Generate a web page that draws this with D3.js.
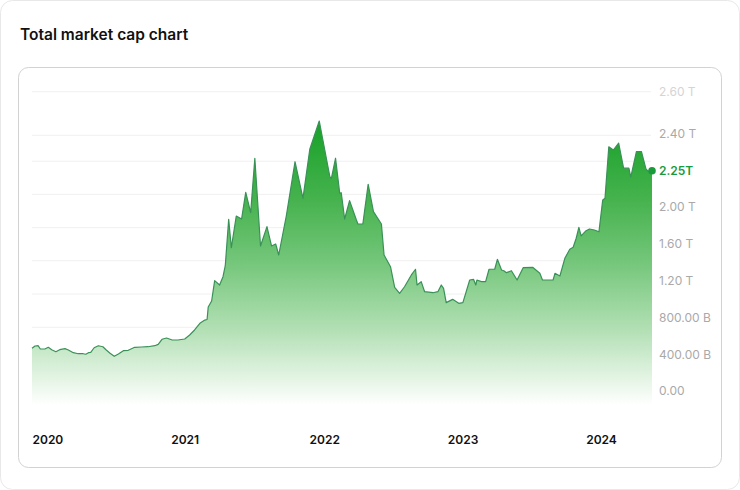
<!DOCTYPE html>
<html><head><meta charset="utf-8">
<script src="https://cdn.jsdelivr.net/npm/d3@7"></script>
<style>
html,body{margin:0;padding:0;background:#fff;}
svg{display:block;font-family:Inter,"Noto Sans",sans-serif;}
</style></head>
<body><svg id="c" width="740" height="490"></svg>
<script>
const title = "Total market cap chart";
const dates = ["2020-01-01","2020-01-09","2020-01-17","2020-01-23","2020-02-04","2020-02-13","2020-02-22","2020-03-04","2020-03-14","2020-03-28",
"2020-04-06","2020-04-19","2020-05-02","2020-05-15","2020-05-22","2020-05-29","2020-06-04","2020-06-13","2020-06-24","2020-07-06",
"2020-07-15","2020-07-25","2020-08-05","2020-08-16","2020-08-29","2020-09-11","2020-09-28","2020-10-16","2020-11-02","2020-11-20",
"2020-11-29","2020-12-09","2020-12-21","2021-01-05","2021-01-20","2021-02-07","2021-02-20","2021-03-05","2021-03-19","2021-04-01",
"2021-04-07","2021-04-10","2021-04-19","2021-04-27","2021-05-10","2021-05-19","2021-05-25","2021-06-03","2021-06-10","2021-06-23",
"2021-07-07","2021-07-18","2021-07-31","2021-08-11","2021-08-26","2021-09-12","2021-09-24","2021-10-05","2021-10-13","2021-11-02",
"2021-11-25","2021-12-16","2022-01-03","2022-01-28","2022-02-25","2022-03-01","2022-03-12","2022-03-23","2022-03-27","2022-04-05",
"2022-04-18","2022-05-06","2022-05-10","2022-05-23","2022-06-06","2022-06-20","2022-07-11","2022-07-18","2022-08-04","2022-08-15",
"2022-08-28","2022-09-10","2022-09-28","2022-10-09","2022-10-13","2022-10-24","2022-11-02","2022-11-24","2022-12-07","2022-12-16",
"2022-12-22","2022-12-29","2023-01-15","2023-01-31","2023-02-11","2023-03-01","2023-03-11","2023-03-17","2023-03-20","2023-04-01",
"2023-04-12","2023-04-21","2023-05-06","2023-05-13","2023-05-24","2023-05-30","2023-06-06","2023-06-19","2023-07-04","2023-07-20",
"2023-08-14","2023-09-02","2023-09-09","2023-10-07","2023-10-12","2023-10-25","2023-11-07","2023-11-20","2023-11-29","2023-12-07",
"2023-12-14","2023-12-20","2024-01-02","2024-01-11","2024-01-24","2024-02-05","2024-02-15","2024-02-21","2024-03-02","2024-03-14",
"2024-03-28","2024-04-10","2024-04-24","2024-04-29","2024-05-14","2024-05-27","2024-06-08","2024-06-14","2024-06-24"];
// total market cap, trillions USD
const values = [0.461,0.486,0.489,0.453,0.453,0.472,0.446,0.424,0.446,0.457,
0.442,0.413,0.402,0.402,0.396,0.413,0.417,0.467,0.489,0.478,
0.442,0.407,0.374,0.399,0.435,0.439,0.472,0.475,0.478,0.489,
0.504,0.559,0.573,0.551,0.551,0.562,0.605,0.660,0.733,0.768,
0.774,0.910,0.975,1.196,1.149,1.239,1.359,1.863,1.554,1.899,
1.866,2.100,1.935,2.300,1.573,1.783,1.573,1.595,1.475,1.899,
2.286,2.058,2.336,2.459,2.208,2.197,2.300,2.093,2.097,1.866,
2.042,1.855,1.812,1.812,2.156,1.946,1.812,1.475,1.348,1.124,
1.059,1.130,1.258,1.320,1.149,1.185,1.076,1.065,1.076,1.149,
1.113,0.957,0.993,0.950,0.957,1.203,1.211,1.149,1.203,1.185,
1.185,1.320,1.320,1.428,1.312,1.304,1.283,1.304,1.203,1.337,
1.341,1.276,1.203,1.203,1.276,1.247,1.439,1.537,1.559,1.657,
1.776,1.682,1.739,1.758,1.747,1.728,2.047,2.058,2.346,2.333,
2.361,2.260,2.260,2.206,2.327,2.327,2.257,2.245,2.250];
const yTickValues = [0, 0.4, 0.8, 1.2, 1.6, 2.0, 2.4, 2.6];
const gridValues = [2.6, 2.392, 2.288, 2.086, 1.772, 1.413, 1.051, 0.689, 0.327, -0.036];
const yearTicks = ["2020-01-01","2021-01-01","2022-01-01","2023-01-01","2024-01-01"];
const currentLabel = "2.25T";

const parse = d3.timeParse("%Y-%m-%d");
const data = dates.map((d,i)=>({date:parse(d), value:values[i]}));

const svg = d3.select("#c");
// outer card
svg.append("rect").attr("x",0.5).attr("y",0.5).attr("width",739).attr("height",489)
  .attr("rx",12).attr("fill","#fff").attr("stroke","#e8e8e8");
svg.append("text").attr("x",20).attr("y",39.5).text(title)
  .attr("font-size",15.5).attr("font-weight",600).attr("fill","#111");
// inner card
svg.append("rect").attr("x",18.5).attr("y",67.5).attr("width",703).attr("height",400)
  .attr("rx",10).attr("fill","#fff").attr("stroke","#d2d2d2");

const x = d3.scaleTime().domain([parse("2020-01-01"), parse("2024-06-24")]).range([32, 652]);
const y = d3.scaleLinear().domain([0, 2.0, 2.25, 2.4, 2.6]).range([390.7, 206.7, 170.7, 133.3, 91.7]);
const plotBottom = 405;

// gradient
const defs = svg.append("defs");
const g = defs.append("linearGradient").attr("id","fillG").attr("gradientUnits","userSpaceOnUse")
  .attr("x1",0).attr("x2",0).attr("y1",118).attr("y2",plotBottom);
[[0,"#15a026"],[0.28,"#45b24d"],[0.5,"#74c67a"],[0.74,"#b3e0b5"],[1,"#ffffff"]].forEach(s=>
  g.append("stop").attr("offset",s[0]).attr("stop-color",s[1]));

// gridlines
svg.append("g").selectAll("line").data(gridValues).join("line")
  .attr("x1",32).attr("x2",651).attr("y1",d=>y(d)).attr("y2",d=>y(d))
  .attr("stroke","#f0f0f0").attr("stroke-width",1);

const area = d3.area().x(d=>x(d.date)).y0(plotBottom).y1(d=>y(d.value));
const line = d3.line().x(d=>x(d.date)).y(d=>y(d.value));
svg.append("path").datum(data).attr("d",area).attr("fill","url(#fillG)");
svg.append("path").datum(data).attr("d",line).attr("fill","none")
  .attr("stroke","#3a9158").attr("stroke-width",1.2).attr("stroke-linejoin","round");

// y labels
const fmt = v => v===0 ? "0.00" : (v>=1 ? v.toFixed(2)+" T" : (v*1000).toFixed(2)+" B");
const yAxis = d3.axisRight(y).tickValues(yTickValues).tickFormat(fmt).tickSize(0).tickPadding(0);
const ya = svg.append("g").attr("transform","translate(659,0)").call(yAxis);
ya.select(".domain").remove();
ya.selectAll("text").attr("font-family","Inter, sans-serif").attr("font-size",12)
  .attr("fill",d=>d===2.6?"#d4d4d4":"#a9a9a9").attr("dy","0.35em");

// current value
const last = data[data.length-1];
svg.append("circle").attr("cx",x(last.date)).attr("cy",y(last.value)).attr("r",3.8).attr("fill","#1b9a3b");
svg.append("text").attr("x",659).attr("y",y(last.value)).attr("dy","0.35em")
  .attr("font-size",12).attr("font-weight",600).attr("fill","#1b9a3b").text(currentLabel);

// x labels
const xAxis = d3.axisBottom(x).tickValues(yearTicks.map(parse)).tickFormat(d3.timeFormat("%Y")).tickSize(0).tickPadding(0);
const xa = svg.append("g").attr("transform","translate(0,436)").call(xAxis);
xa.select(".domain").remove();
xa.selectAll("text").attr("font-family","Inter, sans-serif").attr("font-size",12).attr("font-weight",600)
  .attr("fill","#111").attr("text-anchor","start").attr("dy","0.7em");
</script></body></html>
